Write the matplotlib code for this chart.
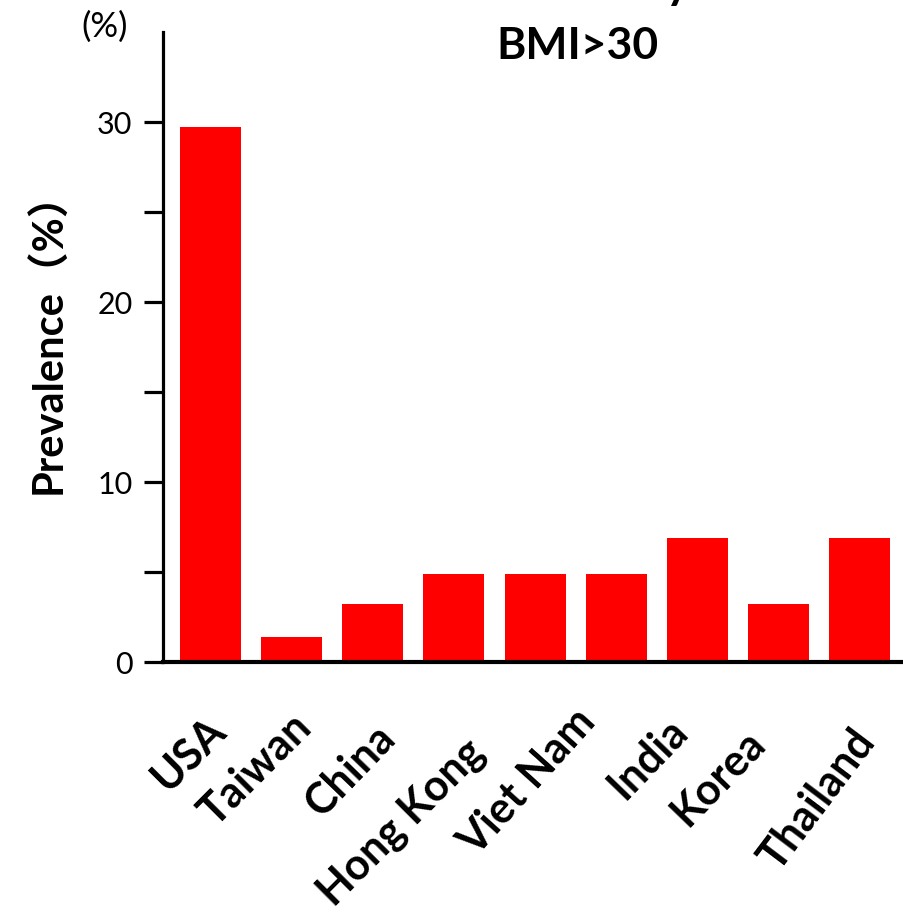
import numpy as np
import matplotlib
matplotlib.use("Agg")
import matplotlib.pyplot as plt
from matplotlib.transforms import blended_transform_factory

# obesity prevalence (BMI>30), one bar per group
prevalence = [29.7, 1.4, 3.2, 4.9, 4.9, 4.9, 6.9, 3.2, 6.9]
countries = ["USA", "Taiwan", "China", "Hong Kong", "Viet Nam",
             "India", "Korea", "Thailand"]

# hand placed country labels: bar-axis x, pixel y of baseline end, angle
label_x = [0.22, 1.27, 2.30, 3.41, 4.77, 5.91, 6.86, 8.21]
label_ypx = [733, 730, 740, 755, 723, 733, 745, 742]
label_rot = [45, 45, 46, 45, 48, 46, 46, 53]

FONT = ["Lato", "Noto Sans CJK JP", "DejaVu Sans"]
plt.rcParams["font.family"] = FONT

W, H = 904, 915
fig = plt.figure(figsize=(W / 100, H / 100), dpi=100)
ax = fig.add_axes([163 / W, 1 - 662 / H, 1 - 163 / W, 630 / H])

x = np.arange(len(prevalence))
ax.bar(x, prevalence, width=0.752, color="#ff0000", zorder=2)

ax.set_xlim(-0.586, 8.549)
ax.set_ylim(0, 35)

for side in ("top", "right"):
    ax.spines[side].set_visible(False)
ax.spines["left"].set_linewidth(2.3)
ax.spines["bottom"].set_linewidth(3.0)

ax.set_yticks([0, 10, 20, 30])
ax.set_yticks([5, 15, 25], minor=True)
ax.tick_params(axis="y", which="both", direction="out", length=14,
               width=2.3, labelsize=22, pad=8)
ax.set_xticks([])

ax.set_ylabel("Prevalence（%）", fontsize=30, fontweight="bold")
ax.yaxis.set_label_coords(-0.128, 0.522)

trans = blended_transform_factory(ax.transData, fig.transFigure)
for name, lx, ly, rot in zip(countries, label_x, label_ypx, label_rot):
    ax.text(lx, 1 - ly / H, name, transform=trans, rotation=rot,
            rotation_mode="anchor", ha="right", va="baseline",
            fontsize=31, fontweight="bold", clip_on=False)

fig.text(105 / W, 1 - 27 / H, "(%)", fontsize=25, ha="center", va="center")
fig.text(577 / W, 1 - 46 / H, "BMI>30", fontsize=32, fontweight="bold",
         ha="center", va="center")
fig.text(690 / W, 1 + 2 / H, "Obesity", fontsize=33, fontweight="bold",
         ha="right", va="baseline")

fig.savefig("out.png", dpi=100)
